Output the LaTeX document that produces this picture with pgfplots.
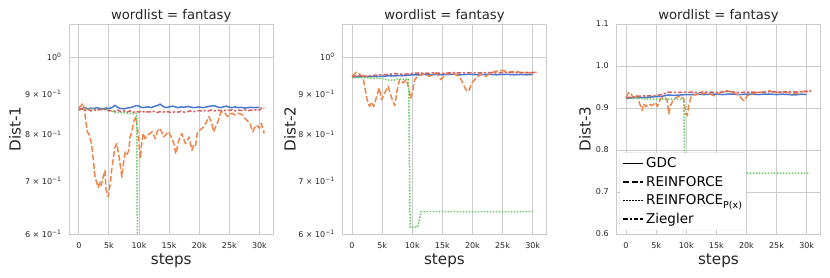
\documentclass[border=0pt]{standalone}
\usepackage{fontspec}
\setmainfont{DejaVu Sans}
\usepackage{pgfplots}
\pgfplotsset{compat=1.18}
\definecolor{cB}{HTML}{4878D0}
\definecolor{cO}{HTML}{EE854A}
\definecolor{cG}{HTML}{6ACC64}
\definecolor{cR}{HTML}{D65F5F}
\definecolor{gridc}{HTML}{CCCCCC}
\definecolor{txt}{HTML}{262626}
\pgfplotsset{
  every axis title shift=0pt,
  base/.style={
    scale only axis, width=203.5pt, height=210pt, anchor=south west,
    xmin=-1550, xmax=32250, ymin=0.6, ymax=1.1,
    xtick={0,5000,10000,15000,20000,25000,30000},
    xticklabels={0,5k,10k,15k,20k,25k,30k},
    scaled x ticks=false,
    major tick length=0pt, minor tick length=0pt,
    xmajorgrids=true, ymajorgrids=true,
    major grid style={gridc, line width=0.9pt},
    axis line style={gridc, line width=1pt},
    tick label style={font=\fontsize{8}{9}\selectfont, text=txt},
    xticklabel style={anchor=base, yshift=-14pt},
    yticklabel style={anchor=east, xshift=-4.5pt},
    title={wordlist = fantasy},
    title style={font=\fontsize{13.2}{15}\selectfont, text=txt, at={(axis description cs:0.5,1.0238)}, anchor=base},
    xlabel={steps},
    xlabel style={font=\fontsize{15.2}{17}\selectfont, text=txt, at={(axis description cs:0.5,-0.1443)}, anchor=base},
    ylabel style={font=\fontsize{15.2}{17}\selectfont, text=txt, anchor=center},
    /pgf/number format/assume math mode=true,
    every axis plot/.append style={line width=1.5pt, line join=round},
  },
  mylogticks/.style={
    ytick={1}, yticklabels={10\textsuperscript{0}},
    extra y ticks={0.6,0.7,0.8,0.9},
    extra y tick labels={6 × 10\textsuperscript{−1},7 × 10\textsuperscript{−1},8 × 10\textsuperscript{−1},9 × 10\textsuperscript{−1}},
    extra y tick style={grid=none},
  },
  sGDC/.style={color=cB, solid},
  sREI/.style={color=cO, dash pattern=on 6pt off 2.4pt},
  sREP/.style={color=cG, dash pattern=on 1.5pt off 1.5pt},
  sZIE/.style={color=cR, dash pattern=on 4.5pt off 1.9pt on 2.2pt off 1.9pt},
}
\begin{document}
\begin{tikzpicture}
\useasboundingbox (0,0) rectangle (830pt,277pt);
% ---------------- Panel 1 ----------------
\begin{axis}[ymode=log, base, mylogticks, at={(69.5pt,43pt)}, ylabel={Dist-1},
  ylabel style={at={(axis description cs:-0.2678,0.5)}}]
\addplot[sGDC] coordinates {(0,0.860)(500,0.862)(1000,0.864)(1500,0.861)(2000,0.863)(2500,0.862)(3000,0.864)(3500,0.862)(4000,0.861)(4500,0.863)(5000,0.862)(5500,0.864)(6000,0.870)(6500,0.864)(7000,0.862)(7500,0.861)(8000,0.863)(8500,0.864)(9000,0.866)(9500,0.869)(10000,0.868)(10500,0.864)(11000,0.865)(11500,0.866)(12000,0.864)(12500,0.867)(13000,0.869)(13500,0.873)(14000,0.867)(14500,0.864)(15000,0.866)(15500,0.868)(16000,0.866)(16500,0.864)(17000,0.866)(17500,0.865)(18000,0.867)(18500,0.866)(19000,0.864)(19500,0.865)(20000,0.866)(20500,0.864)(21000,0.865)(21500,0.867)(22000,0.868)(22500,0.869)(23000,0.866)(23500,0.864)(24000,0.866)(24500,0.868)(25000,0.865)(25500,0.864)(26000,0.866)(26500,0.864)(27000,0.865)(27500,0.863)(28000,0.864)(28500,0.865)(29000,0.864)(29500,0.865)(30000,0.864)};
\addplot[sREI] coordinates {(0,0.863)(300,0.868)(700,0.875)(1000,0.850)(1400,0.806)(1700,0.800)(2100,0.779)(2400,0.745)(2700,0.707)(3000,0.695)(3200,0.686)(3500,0.697)(3700,0.690)(4000,0.705)(4350,0.721)(4500,0.683)(4900,0.668)(5200,0.693)(5500,0.727)(6000,0.771)(6300,0.779)(6700,0.749)(7150,0.707)(7400,0.735)(7700,0.760)(8000,0.755)(8300,0.764)(8500,0.794)(8800,0.805)(9100,0.830)(9500,0.842)(9900,0.794)(10200,0.746)(10500,0.785)(10700,0.802)(11000,0.790)(11200,0.794)(11600,0.800)(12200,0.806)(12700,0.790)(13000,0.805)(13300,0.814)(13700,0.808)(14100,0.794)(14500,0.800)(14900,0.806)(15300,0.795)(15800,0.779)(16100,0.756)(16600,0.786)(17100,0.802)(17400,0.790)(17700,0.779)(18000,0.785)(18300,0.794)(18800,0.764)(19100,0.778)(19400,0.775)(19700,0.806)(20100,0.810)(20500,0.814)(21100,0.826)(21600,0.842)(22000,0.830)(22400,0.806)(22800,0.820)(23100,0.830)(23600,0.854)(24200,0.852)(24700,0.842)(25100,0.848)(25500,0.850)(26000,0.846)(26400,0.850)(26800,0.849)(27200,0.846)(27800,0.834)(28100,0.830)(28400,0.826)(28900,0.806)(29200,0.815)(29500,0.822)(30000,0.814)(30300,0.826)(30800,0.802)};
\addplot[sREP] coordinates {(0,0.860)(1000,0.861)(2000,0.861)(3000,0.860)(4000,0.860)(5000,0.858)(6000,0.853)(7000,0.852)(8000,0.851)(9000,0.849)(9600,0.850)(9750,0.55)(11000,0.55)(11500,0.57)(30500,0.57)};
\addplot[sZIE] coordinates {(0,0.858)(500,0.862)(1000,0.857)(1500,0.860)(2000,0.856)(2500,0.859)(3000,0.857)(3500,0.860)(4000,0.858)(4500,0.861)(5000,0.856)(5500,0.857)(6000,0.855)(6500,0.858)(7000,0.854)(7500,0.856)(8000,0.853)(8500,0.856)(9000,0.852)(9500,0.855)(10000,0.853)(10500,0.856)(11000,0.852)(11500,0.854)(12000,0.853)(12500,0.855)(13000,0.852)(13500,0.854)(14000,0.853)(14500,0.855)(15000,0.853)(15500,0.852)(16000,0.854)(16500,0.853)(17000,0.855)(17500,0.853)(18000,0.854)(18500,0.856)(19000,0.854)(19500,0.855)(20000,0.857)(20500,0.855)(21000,0.857)(21500,0.856)(22000,0.858)(22500,0.856)(23000,0.858)(23500,0.857)(24000,0.856)(24500,0.858)(25000,0.857)(25500,0.859)(26000,0.856)(26500,0.858)(27000,0.857)(27500,0.859)(28000,0.856)(28500,0.858)(29000,0.857)(29500,0.859)(30000,0.858)(30500,0.865)(30800,0.863)};
\end{axis}
% ---------------- Panel 2 ----------------
\begin{axis}[ymode=log, base, mylogticks, at={(342.7pt,43pt)}, ylabel={Dist-2},
  ylabel style={at={(axis description cs:-0.259,0.5)}}]
\addplot[sGDC] coordinates {(0,0.944)(1000,0.944)(2000,0.945)(3000,0.945)(4000,0.946)(5000,0.946)(6000,0.947)(7000,0.947)(8000,0.948)(9000,0.948)(10000,0.950)(11000,0.950)(12000,0.951)(13000,0.950)(14000,0.951)(15000,0.950)(16000,0.951)(17000,0.951)(18000,0.950)(19000,0.951)(20000,0.951)(21000,0.950)(22000,0.951)(23000,0.951)(24000,0.950)(25000,0.951)(26000,0.951)(27000,0.950)(28000,0.951)(29000,0.950)(30000,0.951)};
\addplot[sREI] coordinates {(0,0.946)(700,0.957)(1200,0.952)(1800,0.946)(2100,0.919)(2500,0.884)(2900,0.867)(3200,0.878)(3600,0.867)(4100,0.892)(4500,0.915)(4900,0.884)(5400,0.901)(6000,0.919)(6500,0.892)(7100,0.869)(7500,0.910)(7900,0.937)(8500,0.928)(9000,0.937)(9500,0.910)(9700,0.888)(10000,0.900)(10400,0.937)(10900,0.946)(11800,0.952)(12900,0.946)(14000,0.955)(14800,0.937)(15600,0.952)(16700,0.955)(17800,0.946)(18400,0.928)(18900,0.910)(19400,0.906)(19900,0.928)(20600,0.941)(21400,0.952)(22200,0.946)(23100,0.955)(23900,0.960)(25000,0.962)(26100,0.957)(27200,0.960)(28300,0.955)(29400,0.955)(30500,0.957)};
\addplot[sREP] coordinates {(0,0.942)(2000,0.942)(4000,0.941)(5000,0.940)(5800,0.936)(6900,0.935)(7500,0.938)(9400,0.938)(9650,0.612)(10900,0.612)(11450,0.640)(30300,0.640)};
\addplot[sZIE] coordinates {(0,0.945)(1000,0.948)(2000,0.946)(3000,0.947)(4000,0.949)(5000,0.950)(6000,0.951)(7000,0.953)(8000,0.952)(9000,0.952)(10000,0.954)(11000,0.955)(12000,0.954)(13000,0.955)(14000,0.955)(15000,0.954)(16000,0.955)(17000,0.956)(18000,0.955)(19000,0.955)(20000,0.956)(21000,0.955)(22000,0.956)(23000,0.956)(24000,0.955)(25000,0.956)(26000,0.957)(27000,0.956)(28000,0.956)(29000,0.957)(30000,0.956)(30700,0.957)};
\end{axis}
% ---------------- Panel 3 ----------------
\begin{axis}[base, at={(616.7pt,43pt)}, ylabel={Dist-3},
  ylabel style={at={(axis description cs:-0.156,0.5)}},
  ytick={0.6,0.7,0.8,0.9,1.0,1.1},
  yticklabel style={/pgf/number format/.cd, fixed, fixed zerofill, precision=1},
  legend cell align=left,
  legend image code/.code={\pgfsetstrokecolor{white}\pgfsetstrokecolor{black}\draw[#1] (0pt,0pt) -- (20pt,0pt);},
  legend style={at={(axis description cs:0.016,0.02)}, anchor=south west,
    font=\fontsize{13.5}{15}\selectfont, draw=none, fill=white,
    inner sep=2.5pt, row sep=3pt,
    append after command={\pgfextra{\draw[gridc, line width=0.8pt, rounded corners=3pt] (\tikzlastnode.south west) rectangle (\tikzlastnode.north east);}}}]
\addlegendimage{draw=cB, solid, line width=1.5pt}
\addlegendimage{draw=cO, dash pattern=on 6pt off 2.4pt, line width=1.5pt}
\addlegendimage{draw=cG, dash pattern=on 1.5pt off 1.5pt, line width=1.5pt}
\addlegendimage{draw=cR, dash pattern=on 4.5pt off 1.9pt on 2.2pt off 1.9pt, line width=1.5pt}
\addplot[sGDC, forget plot] coordinates {(0,0.923)(1000,0.924)(2000,0.925)(3000,0.925)(4000,0.926)(5000,0.927)(6000,0.928)(7000,0.931)(8000,0.930)(9000,0.931)(10000,0.932)(11000,0.932)(12000,0.933)(13000,0.932)(14000,0.933)(15000,0.933)(16000,0.932)(17000,0.933)(18000,0.933)(19000,0.932)(20000,0.933)(21000,0.933)(22000,0.932)(23000,0.933)(24000,0.933)(25000,0.932)(26000,0.933)(27000,0.932)(28000,0.931)(29000,0.933)(30000,0.932)};
\addplot[sREI, forget plot] coordinates {(0,0.926)(400,0.936)(800,0.937)(1200,0.921)(1800,0.929)(2200,0.913)(2700,0.894)(2900,0.910)(3300,0.903)(3700,0.910)(4300,0.906)(4900,0.913)(5200,0.904)(5700,0.921)(6200,0.926)(6800,0.921)(7100,0.886)(7400,0.906)(7900,0.921)(8500,0.926)(9000,0.929)(9600,0.921)(9900,0.886)(10200,0.882)(10400,0.906)(10800,0.926)(11300,0.931)(12400,0.933)(13500,0.937)(14600,0.929)(15700,0.937)(16800,0.941)(17900,0.937)(18800,0.929)(19300,0.921)(19600,0.917)(20100,0.929)(20700,0.933)(21800,0.937)(22900,0.937)(23800,0.941)(24600,0.937)(25700,0.938)(26800,0.937)(27900,0.934)(29000,0.938)(30100,0.941)(30800,0.941)};
\addplot[sREP, forget plot] coordinates {(0,0.925)(1500,0.924)(3000,0.922)(5000,0.921)(7000,0.921)(9600,0.921)(9800,0.690)(11000,0.690)(11500,0.745)(30500,0.745)};
\addplot[sZIE, forget plot] coordinates {(0,0.925)(1000,0.926)(2000,0.928)(3000,0.929)(4000,0.929)(5000,0.930)(6000,0.932)(7000,0.938)(8000,0.937)(9000,0.937)(10000,0.938)(11000,0.938)(12000,0.937)(13000,0.938)(14000,0.938)(15000,0.937)(16000,0.938)(17000,0.939)(18000,0.938)(19000,0.937)(20000,0.938)(21000,0.938)(22000,0.937)(23000,0.938)(24000,0.939)(25000,0.938)(26000,0.938)(27000,0.939)(28000,0.938)(29000,0.939)(30000,0.939)(30700,0.940)};
\legend{GDC,REINFORCE,REINFORCE\raisebox{-0.45ex}{\fontsize{9.5}{10}\selectfont P(x)},Ziegler}
\end{axis}
\end{tikzpicture}
\end{document}
